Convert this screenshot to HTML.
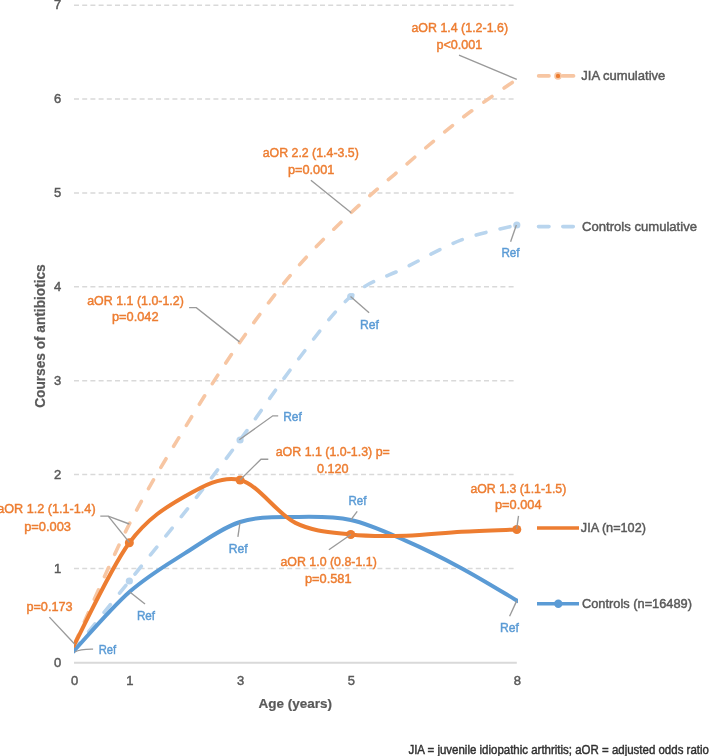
<!DOCTYPE html>
<html><head><meta charset="utf-8"><style>
html,body{margin:0;padding:0;background:#fff;width:709px;height:756px;overflow:hidden}
svg{display:block;font-family:"Liberation Sans",sans-serif;will-change:transform}
</style></head><body>
<svg width="709" height="756" viewBox="0 0 709 756">
<line x1="74" y1="568.43" x2="516" y2="568.43" stroke="#D9D9D9" stroke-width="1.5" stroke-dasharray="5 3.2"/>
<line x1="74" y1="474.56" x2="516" y2="474.56" stroke="#D9D9D9" stroke-width="1.5" stroke-dasharray="5 3.2"/>
<line x1="74" y1="380.69" x2="516" y2="380.69" stroke="#D9D9D9" stroke-width="1.5" stroke-dasharray="5 3.2"/>
<line x1="74" y1="286.82" x2="516" y2="286.82" stroke="#D9D9D9" stroke-width="1.5" stroke-dasharray="5 3.2"/>
<line x1="74" y1="192.95" x2="516" y2="192.95" stroke="#D9D9D9" stroke-width="1.5" stroke-dasharray="5 3.2"/>
<line x1="74" y1="99.08" x2="516" y2="99.08" stroke="#D9D9D9" stroke-width="1.5" stroke-dasharray="5 3.2"/>
<line x1="74" y1="5.21" x2="516" y2="5.21" stroke="#D9D9D9" stroke-width="1.5" stroke-dasharray="5 3.2"/>
<line x1="74" y1="662.7" x2="516.8" y2="662.7" stroke="#D9D9D9" stroke-width="1.9"/>
<text x="61.3" y="666.9" fill="#595959" stroke="#595959" stroke-width="0.45" font-size="13" font-weight="400" text-anchor="end">0</text>
<text x="61.3" y="572.9" fill="#595959" stroke="#595959" stroke-width="0.45" font-size="13" font-weight="400" text-anchor="end">1</text>
<text x="61.3" y="478.9" fill="#595959" stroke="#595959" stroke-width="0.45" font-size="13" font-weight="400" text-anchor="end">2</text>
<text x="61.3" y="384.9" fill="#595959" stroke="#595959" stroke-width="0.45" font-size="13" font-weight="400" text-anchor="end">3</text>
<text x="61.3" y="290.9" fill="#595959" stroke="#595959" stroke-width="0.45" font-size="13" font-weight="400" text-anchor="end">4</text>
<text x="61.3" y="196.9" fill="#595959" stroke="#595959" stroke-width="0.45" font-size="13" font-weight="400" text-anchor="end">5</text>
<text x="61.3" y="102.9" fill="#595959" stroke="#595959" stroke-width="0.45" font-size="13" font-weight="400" text-anchor="end">6</text>
<text x="61.3" y="8.9" fill="#595959" stroke="#595959" stroke-width="0.45" font-size="13" font-weight="400" text-anchor="end">7</text>
<text x="74.5" y="685.3" fill="#595959" stroke="#595959" stroke-width="0.45" font-size="13" font-weight="400" text-anchor="middle">0</text>
<text x="129.85" y="685.3" fill="#595959" stroke="#595959" stroke-width="0.45" font-size="13" font-weight="400" text-anchor="middle">1</text>
<text x="240.55" y="685.3" fill="#595959" stroke="#595959" stroke-width="0.45" font-size="13" font-weight="400" text-anchor="middle">3</text>
<text x="351.25" y="685.3" fill="#595959" stroke="#595959" stroke-width="0.45" font-size="13" font-weight="400" text-anchor="middle">5</text>
<text x="517.3" y="685.3" fill="#595959" stroke="#595959" stroke-width="0.45" font-size="13" font-weight="400" text-anchor="middle">8</text>
<text x="258.5" y="708.3" fill="#595959" stroke="#595959" stroke-width="0.2" font-size="13" font-weight="700" text-anchor="start" textLength="73.5" lengthAdjust="spacingAndGlyphs">Age (years)</text>
<g transform="translate(45.3,407.8) rotate(-90)"><text x="0" y="0" fill="#595959" stroke="#595959" stroke-width="0.2" font-size="14.6" font-weight="700" text-anchor="start" textLength="143.5" lengthAdjust="spacingAndGlyphs">Courses of antibiotics</text></g>
<defs><clipPath id="pc"><rect x="74" y="0" width="444" height="700"/></clipPath></defs><g clip-path="url(#pc)">
<path d="M74.00,645.00 C83.22,624.83 110.90,560.15 129.35,524.00 C147.80,487.85 166.25,458.43 184.70,428.10 C203.15,397.77 221.60,368.43 240.05,342.00 C258.50,315.57 276.95,291.00 295.40,269.50 C313.85,248.00 332.30,230.48 350.75,213.00 C369.20,195.52 387.65,180.35 406.10,164.60 C424.55,148.85 443.00,132.72 461.45,118.50 C479.90,104.28 507.57,85.83 516.80,79.30" fill="none" stroke="#F7C6A3" stroke-width="3.6" stroke-dasharray="10 14.6" stroke-dashoffset="-1" stroke-linecap="round"/>
<path d="M74.00,650.00 C83.22,638.50 110.90,603.93 129.35,581.00 C147.80,558.07 166.25,535.90 184.70,512.40 C203.15,488.90 221.60,464.88 240.05,440.00 C258.50,415.12 276.95,387.02 295.40,363.10 C313.85,339.18 332.30,312.47 350.75,296.50 C369.20,280.53 387.65,276.73 406.10,267.30 C424.55,257.87 443.00,246.95 461.45,239.90 C479.90,232.85 507.57,227.48 516.80,225.00" fill="none" stroke="#B9D5EE" stroke-width="3.6" stroke-dasharray="10 14.6" stroke-dashoffset="1" stroke-linecap="round"/>
</g>
<circle cx="129.35" cy="581.00" r="3.6" fill="#B9D5EE"/>
<circle cx="240.05" cy="440.00" r="3.6" fill="#B9D5EE"/>
<circle cx="350.75" cy="296.50" r="3.6" fill="#B9D5EE"/>
<circle cx="516.80" cy="225.00" r="3.6" fill="#B9D5EE"/>
<g clip-path="url(#pc)"><path d="M74.00,650.80 C83.22,641.00 110.90,608.23 129.35,592.00 C147.80,575.77 166.25,565.07 184.70,553.40 C203.15,541.73 221.60,528.07 240.05,522.00 C258.50,515.93 276.95,517.33 295.40,517.00 C313.85,516.67 332.30,516.02 350.75,520.00 C369.20,523.98 387.65,532.87 406.10,540.90 C424.55,548.93 443.00,558.27 461.45,568.20 C479.90,578.13 507.57,595.12 516.80,600.50" fill="none" stroke="#5B9BD5" stroke-width="4" stroke-linecap="square"/>
<path d="M74.00,645.30 C83.22,628.22 110.90,567.60 129.35,542.80 C147.80,518.00 166.25,506.97 184.70,496.50 C203.15,486.03 221.60,475.60 240.05,480.00 C258.50,484.40 276.95,513.82 295.40,522.90 C313.85,531.98 332.30,532.37 350.75,534.50 C369.20,536.63 387.65,536.17 406.10,535.70 C424.55,535.23 443.00,532.73 461.45,531.70 C479.90,530.67 507.57,529.87 516.80,529.50" fill="none" stroke="#ED7D31" stroke-width="4" stroke-linecap="square"/></g>
<circle cx="129.35" cy="542.80" r="4.5" fill="#ED7D31"/>
<circle cx="240.05" cy="480.00" r="4.5" fill="#ED7D31"/>
<circle cx="350.75" cy="534.50" r="4.5" fill="#ED7D31"/>
<circle cx="516.80" cy="529.50" r="4.5" fill="#ED7D31"/>
<path d="M459,55.2 L516.8,79.4" fill="none" stroke="#9A9A9A" stroke-width="1.35"/>
<path d="M310.9,180.3 L351.2,212.8" fill="none" stroke="#9A9A9A" stroke-width="1.35"/>
<path d="M189.1,307.6 L196.3,307.6 L239.5,341.9" fill="none" stroke="#9A9A9A" stroke-width="1.35"/>
<path d="M100.3,516.1 L108.2,516.1 L129.3,524" fill="none" stroke="#9A9A9A" stroke-width="1.35"/>
<path d="M108.2,516.1 L129.3,542.3" fill="none" stroke="#9A9A9A" stroke-width="1.35"/>
<path d="M49.4,617.1 L74.8,644.3" fill="none" stroke="#9A9A9A" stroke-width="1.35"/>
<path d="M268.3,459.2 L261,459.2 L240,480" fill="none" stroke="#9A9A9A" stroke-width="1.35"/>
<path d="M278.2,415.8 L272.8,415.8 L239.3,439.8" fill="none" stroke="#9A9A9A" stroke-width="1.35"/>
<path d="M328.9,549.7 L350.9,534.5" fill="none" stroke="#9A9A9A" stroke-width="1.35"/>
<path d="M518.5,515.8 L516.7,529" fill="none" stroke="#9A9A9A" stroke-width="1.35"/>
<path d="M369.1,312.7 L350.5,296.5" fill="none" stroke="#9A9A9A" stroke-width="1.35"/>
<path d="M510.6,241.8 L516.4,225" fill="none" stroke="#9A9A9A" stroke-width="1.35"/>
<path d="M237.9,536.9 L240,522.5" fill="none" stroke="#9A9A9A" stroke-width="1.35"/>
<path d="M357.2,511.4 L350.9,519.9" fill="none" stroke="#9A9A9A" stroke-width="1.35"/>
<path d="M509.6,616.2 L516.8,600.6" fill="none" stroke="#9A9A9A" stroke-width="1.35"/>
<path d="M129.8,592 L145,604" fill="none" stroke="#9A9A9A" stroke-width="1.35"/>
<path d="M93.1,649.2 Q80,649 74.8,652" fill="none" stroke="#9A9A9A" stroke-width="1.35"/>
<text x="411.4" y="32.1" fill="#ED7D31" stroke="#ED7D31" stroke-width="0.45" font-size="13" font-weight="400" text-anchor="start" textLength="96.66" lengthAdjust="spacingAndGlyphs">aOR 1.4 (1.2-1.6)</text>
<text x="436.42" y="48.9" fill="#ED7D31" stroke="#ED7D31" stroke-width="0.45" font-size="13" font-weight="400" text-anchor="start" textLength="45.9" lengthAdjust="spacingAndGlyphs">p&lt;0.001</text>
<text x="262.68" y="156.9" fill="#ED7D31" stroke="#ED7D31" stroke-width="0.45" font-size="13" font-weight="400" text-anchor="start" textLength="96.14" lengthAdjust="spacingAndGlyphs">aOR 2.2 (1.4-3.5)</text>
<text x="287.94" y="173.9" fill="#ED7D31" stroke="#ED7D31" stroke-width="0.45" font-size="13" font-weight="400" text-anchor="start" textLength="46.38" lengthAdjust="spacingAndGlyphs">p=0.001</text>
<text x="87.18" y="304.5" fill="#ED7D31" stroke="#ED7D31" stroke-width="0.45" font-size="13" font-weight="400" text-anchor="start" textLength="96.66" lengthAdjust="spacingAndGlyphs">aOR 1.1 (1.0-1.2)</text>
<text x="111.96" y="321.2" fill="#ED7D31" stroke="#ED7D31" stroke-width="0.45" font-size="13" font-weight="400" text-anchor="start" textLength="46.6" lengthAdjust="spacingAndGlyphs">p=0.042</text>
<text x="275.68" y="456.3" fill="#ED7D31" stroke="#ED7D31" stroke-width="0.45" font-size="13" font-weight="400" text-anchor="start" textLength="114.14" lengthAdjust="spacingAndGlyphs">aOR 1.1 (1.0-1.3) p=</text>
<text x="316.92" y="473.1" fill="#ED7D31" stroke="#ED7D31" stroke-width="0.45" font-size="13" font-weight="400" text-anchor="start" textLength="31.68" lengthAdjust="spacingAndGlyphs">0.120</text>
<text x="-2.8" y="513.0" fill="#ED7D31" stroke="#ED7D31" stroke-width="0.45" font-size="13" font-weight="400" text-anchor="start" textLength="98.4" lengthAdjust="spacingAndGlyphs">aOR 1.2 (1.1-1.4)</text>
<text x="24.2" y="530.5" fill="#ED7D31" stroke="#ED7D31" stroke-width="0.45" font-size="13" font-weight="400" text-anchor="start" textLength="46.84" lengthAdjust="spacingAndGlyphs">p=0.003</text>
<text x="26.42" y="610.9" fill="#ED7D31" stroke="#ED7D31" stroke-width="0.45" font-size="13" font-weight="400" text-anchor="start" textLength="46.16" lengthAdjust="spacingAndGlyphs">p=0.173</text>
<text x="280.4" y="565.8" fill="#ED7D31" stroke="#ED7D31" stroke-width="0.45" font-size="13" font-weight="400" text-anchor="start" textLength="96.42" lengthAdjust="spacingAndGlyphs">aOR 1.0 (0.8-1.1)</text>
<text x="304.96" y="582.5" fill="#ED7D31" stroke="#ED7D31" stroke-width="0.45" font-size="13" font-weight="400" text-anchor="start" textLength="46.6" lengthAdjust="spacingAndGlyphs">p=0.581</text>
<text x="470.4" y="492.8" fill="#ED7D31" stroke="#ED7D31" stroke-width="0.45" font-size="13" font-weight="400" text-anchor="start" textLength="95.92" lengthAdjust="spacingAndGlyphs">aOR 1.3 (1.1-1.5)</text>
<text x="494.96" y="508.9" fill="#ED7D31" stroke="#ED7D31" stroke-width="0.45" font-size="13" font-weight="400" text-anchor="start" textLength="46.6" lengthAdjust="spacingAndGlyphs">p=0.004</text>
<text x="98.68" y="654.2" fill="#5B9BD5" stroke="#5B9BD5" stroke-width="0.45" font-size="13" font-weight="400" text-anchor="start" textLength="17.46" lengthAdjust="spacingAndGlyphs">Ref</text>
<text x="136.92" y="619.6" fill="#5B9BD5" stroke="#5B9BD5" stroke-width="0.45" font-size="13" font-weight="400" text-anchor="start" textLength="18.22" lengthAdjust="spacingAndGlyphs">Ref</text>
<text x="228.7" y="553.1" fill="#5B9BD5" stroke="#5B9BD5" stroke-width="0.45" font-size="13" font-weight="400" text-anchor="start" textLength="18.92" lengthAdjust="spacingAndGlyphs">Ref</text>
<text x="283.18" y="420.7" fill="#5B9BD5" stroke="#5B9BD5" stroke-width="0.45" font-size="13" font-weight="400" text-anchor="start" textLength="18.68" lengthAdjust="spacingAndGlyphs">Ref</text>
<text x="359.94" y="328.5" fill="#5B9BD5" stroke="#5B9BD5" stroke-width="0.45" font-size="13" font-weight="400" text-anchor="start" textLength="18.92" lengthAdjust="spacingAndGlyphs">Ref</text>
<text x="348.42" y="505.1" fill="#5B9BD5" stroke="#5B9BD5" stroke-width="0.45" font-size="13" font-weight="400" text-anchor="start" textLength="17.96" lengthAdjust="spacingAndGlyphs">Ref</text>
<text x="501.44" y="257.3" fill="#5B9BD5" stroke="#5B9BD5" stroke-width="0.45" font-size="13" font-weight="400" text-anchor="start" textLength="18.18" lengthAdjust="spacingAndGlyphs">Ref</text>
<text x="499.96" y="632.0" fill="#5B9BD5" stroke="#5B9BD5" stroke-width="0.45" font-size="13" font-weight="400" text-anchor="start" textLength="18.9" lengthAdjust="spacingAndGlyphs">Ref</text>
<path d="M538.6,75.9 L549,75.9 M562.6,75.9 L573.6,75.9" stroke="#F7C6A3" stroke-width="3.6" stroke-linecap="round"/>
<circle cx="558" cy="75.9" r="3.8" fill="#F7C6A3"/><circle cx="558" cy="75.9" r="2.2" fill="#ED7D31"/>
<text x="581.3" y="80.0" fill="#595959" stroke="#595959" stroke-width="0.45" font-size="13" font-weight="400" text-anchor="start" textLength="84.0" lengthAdjust="spacingAndGlyphs">JIA cumulative</text>
<path d="M538.5,226.6 L549,226.6 M562.8,226.6 L573.3,226.6" stroke="#B9D5EE" stroke-width="3.6" stroke-linecap="round"/>
<text x="582.0" y="230.5" fill="#595959" stroke="#595959" stroke-width="0.45" font-size="13" font-weight="400" text-anchor="start" textLength="115.0" lengthAdjust="spacingAndGlyphs">Controls cumulative</text>
<line x1="537" y1="528" x2="579" y2="528" stroke="#ED7D31" stroke-width="3.6"/>
<text x="580.8" y="532.4" fill="#595959" stroke="#595959" stroke-width="0.45" font-size="13" font-weight="400" text-anchor="start" textLength="65.1" lengthAdjust="spacingAndGlyphs">JIA (n=102)</text>
<line x1="537" y1="603.7" x2="579" y2="603.7" stroke="#5B9BD5" stroke-width="3.6"/>
<circle cx="558.3" cy="603.7" r="4.2" fill="#5B9BD5"/>
<text x="582.0" y="608.0" fill="#595959" stroke="#595959" stroke-width="0.45" font-size="13" font-weight="400" text-anchor="start" textLength="110.0" lengthAdjust="spacingAndGlyphs">Controls (n=16489)</text>
<text x="408.4" y="753.6" fill="#303030" stroke="#303030" stroke-width="0.45" font-size="13" font-weight="400" text-anchor="start" textLength="300.5" lengthAdjust="spacingAndGlyphs">JIA = juvenile idiopathic arthritis; aOR = adjusted odds ratio</text>
</svg>
</body></html>
